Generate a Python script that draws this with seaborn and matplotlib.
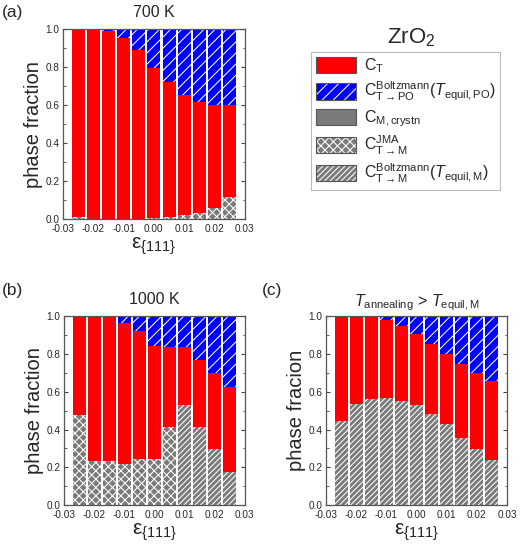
import numpy as np
import matplotlib
matplotlib.use('Agg')
import matplotlib.pyplot as plt
import seaborn as sns
from matplotlib.patches import Patch
from matplotlib.ticker import MultipleLocator, FormatStrFormatter

# strain values (bar positions)
eps = [-0.025, -0.020, -0.015, -0.010, -0.005, 0.000, 0.005, 0.010, 0.015, 0.020, 0.025]

# (a) 700 K : monoclinic (bottom), tetragonal (red), PO (blue)
a_m = [0.010, 0.003, 0.003, 0.003, 0.003, 0.005, 0.010, 0.020, 0.030, 0.060, 0.115]
a_t = [0.990, 0.997, 0.987, 0.952, 0.887, 0.790, 0.710, 0.635, 0.585, 0.540, 0.485]
a_po = [0.000, 0.000, 0.010, 0.045, 0.110, 0.205, 0.280, 0.345, 0.385, 0.400, 0.400]
a_kind = ['JMA'] * 11

# (b) 1000 K
b_m = [0.475, 0.235, 0.235, 0.215, 0.245, 0.245, 0.415, 0.530, 0.415, 0.295, 0.175]
b_t = [0.525, 0.765, 0.760, 0.750, 0.675, 0.600, 0.420, 0.305, 0.355, 0.405, 0.450]
b_po = [0.000, 0.000, 0.005, 0.035, 0.080, 0.155, 0.165, 0.165, 0.230, 0.300, 0.375]
b_kind = ['JMA'] * 7 + ['Boltz'] * 4

# (c) T_annealing > T_equil,M
c_m = [0.445, 0.535, 0.560, 0.565, 0.550, 0.530, 0.485, 0.430, 0.355, 0.295, 0.240]
c_t = [0.555, 0.465, 0.435, 0.415, 0.400, 0.375, 0.370, 0.370, 0.390, 0.405, 0.415]
c_po = [0.000, 0.000, 0.005, 0.020, 0.050, 0.095, 0.145, 0.200, 0.255, 0.300, 0.345]
c_kind = ['Boltz'] * 11

RED = '#ff0000'
BLUE = '#0000ff'
GRAY = '#7a7a7a'
HATCH = {'JMA': 'xxxx', 'Boltz': '//////'}

sns.set_style('ticks')
plt.rcParams['font.family'] = ['Liberation Sans', 'DejaVu Sans']
plt.rcParams['mathtext.fontset'] = 'custom'
plt.rcParams['mathtext.rm'] = 'Liberation Sans'
plt.rcParams['mathtext.it'] = 'Liberation Sans:italic'
plt.rcParams['mathtext.bf'] = 'Liberation Sans:bold'
plt.rcParams['axes.unicode_minus'] = False
plt.rcParams['hatch.linewidth'] = 0.75


def stacked_panel(ax, m, t, po, kind, ylabel):
    m = np.array(m)
    top_t = m + np.array(t)
    total = top_t + np.array(po)
    layers = [(total, BLUE, '///'), (top_t, RED, None), (m, GRAY, None)]
    for vals, col, h in layers:
        sns.barplot(x=eps, y=vals, native_scale=True, orient='x', width=0.86,
                    color=col, saturation=1, errorbar=None, linewidth=0,
                    edgecolor='white', hatch=h, ax=ax)
    # hatch the bottom (monoclinic) bars per type
    for patch, k in zip(ax.containers[-1], kind):
        patch.set_hatch(HATCH[k])
        patch.set_edgecolor('white')

    ax.set_xlim(-0.03, 0.03)
    ax.set_ylim(0, 1)
    ax.xaxis.set_major_locator(MultipleLocator(0.01))
    ax.xaxis.set_minor_locator(MultipleLocator(0.005))
    ax.yaxis.set_major_locator(MultipleLocator(0.2))
    ax.yaxis.set_minor_locator(MultipleLocator(0.1))
    ax.xaxis.set_major_formatter(FormatStrFormatter('%.2f'))
    ax.yaxis.set_major_formatter(FormatStrFormatter('%.1f'))
    ax.tick_params(which='both', direction='in', top=True, right=True,
                   labelsize=7.2, color='#444444')
    ax.tick_params(axis='x', which='major', pad=3.5)
    ax.tick_params(axis='y', which='major', pad=2.5)
    ax.tick_params(which='major', length=3, width=0.8)
    ax.tick_params(which='minor', length=1.8, width=0.6)
    for s in ax.spines.values():
        s.set_color('#555555')
        s.set_linewidth(0.9)
    ax.set_xlabel(r'$\mathrm{ε_{\{111\}}}$', fontsize=15, labelpad=1)
    ax.set_ylabel(ylabel, fontsize=14.5, labelpad=2)


fig = plt.figure(figsize=(5.2, 5.52), dpi=100)
ax_a = fig.add_axes([0.121, 0.603, 0.350, 0.344])
ax_b = fig.add_axes([0.123, 0.085, 0.348, 0.342])
ax_c = fig.add_axes([0.627, 0.085, 0.348, 0.342])

stacked_panel(ax_a, a_m, a_t, a_po, a_kind, 'phase fraction')
stacked_panel(ax_b, b_m, b_t, b_po, b_kind, 'phase fraction')
stacked_panel(ax_c, c_m, c_t, c_po, c_kind, 'phase fracion')

ax_a.set_title('700 K', fontsize=11.5, pad=9)
ax_b.set_title('1000 K', fontsize=11.5, pad=9)
ax_c.set_title(r'$T_\mathrm{annealing}$ > $T_\mathrm{equil,M}$', fontsize=11.5, pad=7)

fig.text(0.004, 0.978, '(a)', fontsize=12.5, va='center')
fig.text(0.004, 0.474, '(b)', fontsize=12.5, va='center')
fig.text(0.503, 0.474, '(c)', fontsize=12.5, va='center')

fig.text(0.79, 0.932, r'$\mathrm{ZrO_2}$', fontsize=16, ha='center', va='center')

edge = Patch(fill=False, edgecolor='#555555', linewidth=0.8)
handles = [
    (Patch(facecolor=RED, linewidth=0), edge),
    (Patch(facecolor=BLUE, edgecolor='white', hatch='///', linewidth=0), edge),
    (Patch(facecolor=GRAY, linewidth=0), edge),
    (Patch(facecolor=GRAY, edgecolor='white', hatch=HATCH['JMA'], linewidth=0), edge),
    (Patch(facecolor=GRAY, edgecolor='white', hatch=HATCH['Boltz'], linewidth=0), edge),
]
labels = [
    r'$\mathrm{C_T}$',
    r'$\mathrm{C_{T\rightarrow PO}^{Boltzmann}}(T_\mathrm{equil,PO})$',
    r'$\mathrm{C_{M,crystn}}$',
    r'$\mathrm{C_{T\rightarrow M}^{JMA}}$',
    r'$\mathrm{C_{T\rightarrow M}^{Boltzmann}}(T_\mathrm{equil,M})$',
]
leg = fig.legend(handles, labels, loc='upper left', bbox_to_anchor=(0.598, 0.906),
                 fontsize=11.5, frameon=True, fancybox=False, handlelength=2.5,
                 handleheight=1.2, handletextpad=0.5, labelspacing=0.3,
                 borderpad=0.3, borderaxespad=0)
leg.get_frame().set_edgecolor('#aaaaaa')
leg.get_frame().set_linewidth(0.8)

fig.savefig('out.png', dpi=100)
